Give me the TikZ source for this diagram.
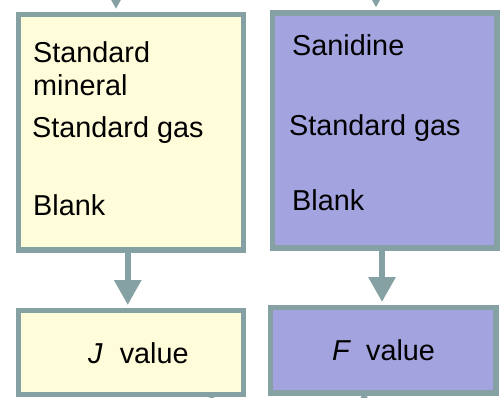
\documentclass[tikz,border=0pt]{standalone}
\usepackage{fontspec}
\setmainfont{Liberation Sans}
\usetikzlibrary{arrows.meta,positioning}
\definecolor{bordc}{HTML}{86A1A4}
\definecolor{yelfill}{HTML}{FFFDD9}
\definecolor{purfill}{HTML}{A3A3E0}
\tikzset{
  boxy/.style={draw=bordc, line width=5.5pt, fill=yelfill, rectangle, inner sep=0pt, anchor=north west},
  boxp/.style={draw=bordc, line width=5.5pt, fill=purfill, rectangle, inner sep=0pt, anchor=north west},
  lbl/.style={anchor=base west, inner sep=0pt, font=\fontsize{28.8}{34}\selectfont},
  arr/.style={draw=bordc, line width=6pt, -{Triangle[width=26pt,length=25pt]}, shorten >=2.5pt},
  conn/.style={draw=bordc, line width=6pt}
}
\begin{document}
\begin{tikzpicture}[x=1pt,y=-1pt]
\useasboundingbox (0,0) rectangle (500,397);
\clip (0,0) rectangle (500,397);
% boxes
\node[boxy, minimum width=225pt, minimum height=235.5pt] (b1) at (15.5,11.5) {};
\node[boxp, minimum width=224.5pt, minimum height=235pt] (b2) at (269.5,10) {};
\node[boxy, minimum width=225pt, minimum height=84pt] (jv) at (15.5,307.5) {};
\node[boxp, minimum width=225.5pt, minimum height=85.5pt] (fv) at (267.5,304.5) {};
% texts
\node[lbl] (t1) at (33,62) {Standard};
\node[lbl] (t2) at (33,95) {mineral};
\node[lbl] (t3) at (32,137) {Standard gas};
\node[lbl] (t4) at (33,215) {Blank};
\node[lbl] (t5) at (292,55) {Sanidine};
\node[lbl] (t6) at (289,135) {Standard gas};
\node[lbl] (t7) at (292,210) {Blank};
\node[lbl] (t8) at (88,363) {\textit{J}\hspace{17pt}value};
\node[lbl] (t9) at (332,360) {\textit{F}\hspace{15pt}value};
% arrows between boxes
\draw[arr] ([xshift=-3pt]b1.south) -- ([xshift=-3pt]jv.north);
\draw[arr] ([xshift=-2.5pt]b2.south) -- ([xshift=-1pt]fv.north);
% incoming arrows from above (cut off)
\coordinate (inL) at (116,-40);
\coordinate (inR) at (376,-40);
\draw[arr] (inL) -- (inL |- b1.north);
\draw[arr] (inR) -- (inR |- b2.north);
% outgoing lines below (cut off)
\coordinate (outJ) at (230,450);
\coordinate (outF) at (340,450);
\draw[conn] ([xshift=80pt]jv.south) -- (outJ);
\draw[conn] ([xshift=-18pt]fv.south) -- (outF);
\end{tikzpicture}
\end{document}
